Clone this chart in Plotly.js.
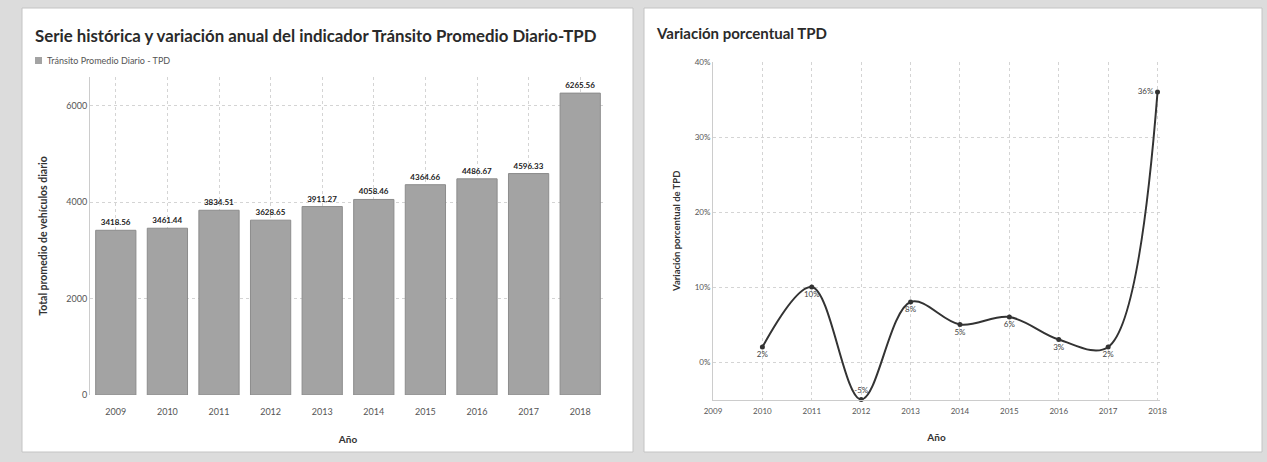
<!DOCTYPE html>
<html>
<head>
<meta charset="utf-8">
<script src="https://cdn.plot.ly/plotly-3.0.1.min.js"></script>
<style>
html,body{margin:0;padding:0;background:#dcdcdc;}
#chart{width:1267px;height:462px;}
</style>
</head>
<body>
<div id="chart"></div>
<script>
// ---- data ----
const years = [2009, 2010, 2011, 2012, 2013, 2014, 2015, 2016, 2017, 2018];
const tpdValues = [3418.56, 3461.44, 3834.51, 3628.65, 3911.27, 4058.46, 4364.66, 4486.67, 4596.33, 6265.56];
const varYears = [2010, 2011, 2012, 2013, 2014, 2015, 2016, 2017, 2018];
const varPercent = [2, 10, -5, 8, 5, 6, 3, 2, 36];
const leftTitle = 'Serie histórica y variación anual del indicador Tránsito Promedio Diario-TPD';
const rightTitle = 'Variación porcentual TPD';
const seriesName = 'Tránsito Promedio Diario - TPD';

const W = 1267, H = 462;
const px = x => x / W;
const py = y => 1 - y / H;
const FONT = 'Lato, "Open Sans", sans-serif';

const barTrace = {
  type: 'bar',
  x: years.map(String),
  y: tpdValues,
  name: seriesName,
  marker: {color: '#a3a3a3', line: {color: '#8c8c8c', width: 1}},
  width: 0.78,
  text: tpdValues.map(v => '<b>' + v.toFixed(2) + '</b>'),
  textposition: 'outside',
  cliponaxis: false,
  textfont: {family: FONT, size: 8, color: '#222'},
  xaxis: 'x', yaxis: 'y',
  showlegend: false,
  hoverinfo: 'x+y'
};

const posFor = (v, i) => {
  if (varYears[i] === 2018) return 'middle left';
  if (v < 0) return 'top center';
  return 'bottom center';
};

const lineTrace = {
  type: 'scatter',
  mode: 'lines+markers+text',
  x: varYears,
  y: varPercent,
  line: {shape: 'spline', smoothing: 1, color: '#333', width: 2},
  marker: {color: '#333', size: 5},
  text: varPercent.map(v => v + '%'),
  textposition: varPercent.map(posFor),
  textfont: {family: FONT, size: 8, color: '#444'},
  cliponaxis: false,
  xaxis: 'x2', yaxis: 'y2',
  showlegend: false
};

const gridStyle = {gridcolor: '#d4d4d4', griddash: 'dot', gridwidth: 1};

const layout = {
  width: W, height: H,
  margin: {l: 0, r: 0, t: 0, b: 0},
  paper_bgcolor: '#dcdcdc',
  plot_bgcolor: 'rgba(0,0,0,0)',
  font: {family: FONT, color: '#444', size: 9},
  showlegend: false,
  bargap: 0.2,
  xaxis: Object.assign({
    domain: [px(90), px(606)],
    anchor: 'y',
    type: 'category',
    showgrid: true,
    tickfont: {size: 9, color: '#555'},
    ticks: 'outside', ticklen: 8, tickcolor: 'rgba(0,0,0,0)',
    showline: false,
    title: {text: 'Año', font: {size: 10, color: '#333', weight: 'bold'}, standoff: 20}
  }, gridStyle),
  yaxis: Object.assign({
    domain: [py(395), py(77)],
    anchor: 'x',
    range: [0, 6600],
    dtick: 2000,
    tickformat: 'd',
    tickfont: {size: 9, color: '#555'},
    zeroline: false,
    showline: true, linecolor: '#ccc',
    title: {text: 'Total promedio de vehículos diario', font: {size: 10.5, color: '#333', weight: 'bold'}, standoff: 16}
  }, gridStyle),
  xaxis2: Object.assign({
    domain: [px(713), px(1160)],
    anchor: 'y2',
    range: [2009, 2018.05],
    dtick: 1,
    tickformat: 'd',
    tickfont: {size: 8, color: '#555'},
    ticks: 'outside', ticklen: 4, tickcolor: 'rgba(0,0,0,0)',
    showline: true, linecolor: '#ccc',
    zeroline: false,
    title: {text: 'Año', font: {size: 10, color: '#333', weight: 'bold'}, standoff: 18}
  }, gridStyle),
  yaxis2: Object.assign({
    domain: [py(399.5), py(62)],
    anchor: 'x2',
    range: [-5, 40],
    tickvals: [0, 10, 20, 30, 40],
    ticktext: ['0%', '10%', '20%', '30%', '40%'],
    tickfont: {size: 8, color: '#555'},
    zeroline: false,
    showline: true, linecolor: '#ccc',
    title: {text: 'Variación porcentual de TPD', font: {size: 9.5, color: '#333', weight: 'bold'}, standoff: 12}
  }, gridStyle),
  shapes: [
    {type: 'rect', xref: 'paper', yref: 'paper', x0: px(22), x1: px(633), y0: py(452), y1: py(8),
     fillcolor: '#ffffff', line: {color: '#c4c4c4', width: 1}, layer: 'below'},
    {type: 'rect', xref: 'paper', yref: 'paper', x0: px(644), x1: px(1262), y0: py(452), y1: py(8),
     fillcolor: '#ffffff', line: {color: '#c4c4c4', width: 1}, layer: 'below'},
    {type: 'rect', xref: 'paper', yref: 'paper', x0: px(35), x1: px(42), y0: py(64), y1: py(57),
     fillcolor: '#a3a3a3', line: {width: 0}}
  ],
  annotations: [
    {text: '<b>' + leftTitle + '</b>', xref: 'paper', yref: 'paper', x: px(33), y: py(35),
     xanchor: 'left', yanchor: 'middle', showarrow: false, font: {family: FONT, size: 16.8, color: '#2a2a2a'}},
    {text: seriesName, xref: 'paper', yref: 'paper', x: px(45), y: py(60.5),
     xanchor: 'left', yanchor: 'middle', showarrow: false, font: {family: FONT, size: 9, color: '#555'}},
    {text: '<b>' + rightTitle + '</b>', xref: 'paper', yref: 'paper', x: px(654), y: py(33),
     xanchor: 'left', yanchor: 'middle', showarrow: false, font: {family: FONT, size: 15, color: '#2a2a2a'}}
  ]
};

Plotly.newPlot('chart', [barTrace, lineTrace], layout, {displayModeBar: false, staticPlot: true});
</script>
</body>
</html>
